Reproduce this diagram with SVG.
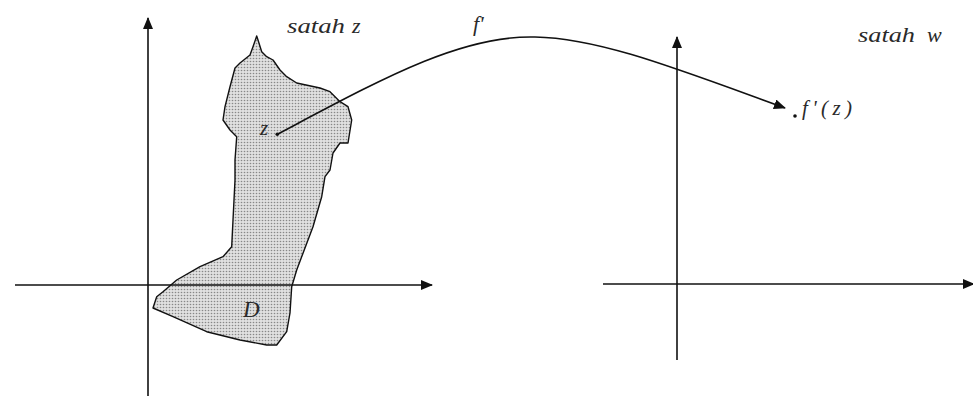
<svg xmlns="http://www.w3.org/2000/svg" width="973" height="405" viewBox="0 0 973 405">
<style>
.ax{stroke:#111;stroke-width:1.6;fill:none}
.lbl{font-family:"Liberation Serif","Times New Roman",serif;font-style:italic;fill:#2a2a2a}
</style>
<defs>
<marker id="ah" markerWidth="12" markerHeight="10" refX="11" refY="5" orient="auto" markerUnits="userSpaceOnUse">
<path d="M0,0 L12,5 L0,10 Z" fill="#111"/>
</marker>
<pattern id="dots" width="3" height="3" patternUnits="userSpaceOnUse">
<rect width="3" height="3" fill="#e0e0e0"/>
<circle cx="1.5" cy="1.5" r="0.8" fill="#888"/>
</pattern>
</defs>
<rect width="973" height="405" fill="#fff"/>
<g id="region">
<path d="M256.7,36 L253,46.7 L250,55 L240,63 L235,68 L230,86.7 L225,106.7 L223,120 L230,130 L236.7,136.7 L235,160 L235,180 L233,220 L231.7,246.7 L223,256.7 L200,266.7 L176.7,280 L163,291.7 L156.7,296.7 L153,308 L173,316.7 L206.7,331.7 L240,340 L266.7,345 L276.7,345 L286.7,331.7 L290,313 L291.7,286.7 L296.7,270 L313,226.7 L321.7,196.7 L325,176.7 L330,170 L333,153 L340,143 L348,143 L351.7,120 L348,106.7 L340,101.7 L330,91.7 L320,88 L296.7,83 L286.7,76.7 L280,70 L273,60 L266.7,56.7 L261.7,51.7 L258,40 Z" fill="url(#dots)" stroke="#111" stroke-width="1.4" stroke-linejoin="round"/>
<text class="lbl" x="243" y="317" font-size="23">D</text>
</g>
<g id="axes-z">
<line class="ax" x1="148" y1="396" x2="148" y2="18" marker-end="url(#ah)"/>
<line class="ax" x1="15" y1="285" x2="432" y2="285" marker-end="url(#ah)"/>
<text class="lbl" x="287" y="33" font-size="22" textLength="58" lengthAdjust="spacingAndGlyphs">satah</text>
<text class="lbl" x="352" y="33" font-size="22">z</text>
</g>
<g id="axes-w">
<line class="ax" x1="677" y1="360" x2="677" y2="37" marker-end="url(#ah)"/>
<line class="ax" x1="603" y1="284" x2="974" y2="284" marker-end="url(#ah)"/>
<text class="lbl" x="858" y="42" font-size="22" textLength="57" lengthAdjust="spacingAndGlyphs">satah</text>
<text class="lbl" x="927" y="42" font-size="22">w</text>
</g>
<g id="point-z">
<circle cx="277.3" cy="134.3" r="1.8" fill="#111"/>
<text class="lbl" x="260" y="135" font-size="21">z</text>
</g>
<g id="point-fz">
<circle cx="795" cy="116" r="1.8" fill="#111"/>
<text class="lbl" x="802" y="115" font-size="21" textLength="50" lengthAdjust="spacing">f'(z)</text>
</g>
<g id="connectors">
<path class="ax" d="M277.3,134.3 C380,80 460,35 535,37 C600,38 680,70 785,108" marker-end="url(#ah)"/>
<text class="lbl" x="473" y="31" font-size="22">f'</text>
</g>
</svg>
